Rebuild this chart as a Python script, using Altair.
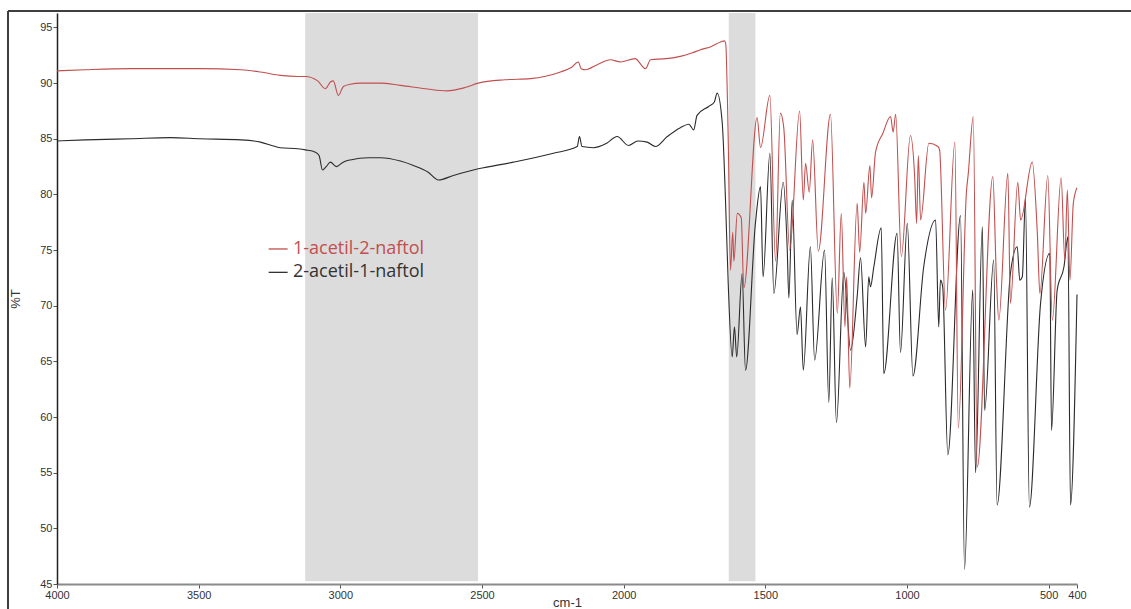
import altair as alt
import pandas as pd

# FTIR spectra, wavenumber (cm-1) vs transmittance (%T)
red_wn = [4000, 3900, 3741, 3600, 3494, 3350, 3282, 3212, 3150, 3123, 3080, 3053, 3035, 3025,
          3007, 2989, 2965, 2929, 2859, 2788, 2700, 2623, 2560, 2513, 2420, 2329, 2223, 2185,
          2160, 2150, 2135, 2090, 2047, 2011, 1960, 1923, 1905, 1850, 1800, 1760, 1729, 1690,
          1658, 1644, 1640, 1631, 1623, 1615, 1611, 1599, 1585, 1576, 1529, 1517, 1484, 1464,
          1447, 1435, 1414, 1379, 1366, 1358, 1345, 1333, 1313, 1270, 1246, 1232, 1219, 1213,
          1202, 1176, 1167, 1152, 1146, 1131, 1125, 1111, 1085, 1058, 1049, 1040, 1020, 988,
          973, 966, 960, 952, 923, 891, 885, 864, 831, 819, 790, 784, 766, 752, 697, 685,
          676, 644, 635, 609, 599, 558, 540, 531, 503, 487, 456, 443, 434, 425, 413, 400]
red_t = [91.1, 91.2, 91.3, 91.3, 91.3, 91.2, 91.0, 90.7, 90.6, 90.6, 90.2, 89.5, 90.1, 90.2,
         88.9, 89.7, 89.9, 90.0, 90.0, 89.8, 89.5, 89.3, 89.6, 90.0, 90.3, 90.4, 91.0, 91.4,
         91.9, 91.3, 91.2, 91.7, 92.1, 91.9, 92.2, 91.3, 92.1, 92.2, 92.4, 92.7, 93.0, 93.3,
         93.7, 93.8, 93.6, 85.0, 73.2, 76.6, 74.0, 78.3, 77.9, 71.6, 86.9, 84.2, 88.9, 74.0,
         87.3, 86.0, 75.0, 87.5, 79.5, 82.8, 80.2, 84.9, 74.9, 87.2, 69.3, 78.3, 68.1, 72.6,
         62.6, 79.2, 74.8, 81.1, 78.3, 82.6, 79.7, 83.8, 85.5, 87.0, 85.6, 87.2, 74.4, 85.3,
         81.6, 77.4, 83.5, 77.7, 84.6, 84.3, 84.0, 69.6, 84.7, 59.0, 80.3, 81.8, 87.0, 55.5,
         81.6, 72.9, 68.7, 81.9, 70.2, 81.1, 77.7, 82.9, 76.5, 71.1, 81.7, 68.7, 81.5, 74.1,
         80.4, 72.3, 79.2, 80.6]

black_wn = [4000, 3900, 3741, 3600, 3494, 3350, 3282, 3229, 3212, 3150, 3123, 3088, 3075, 3063,
            3050, 3035, 3014, 2990, 2965, 2900, 2859, 2788, 2742, 2690, 2654, 2601, 2513, 2389,
            2248, 2164, 2156, 2147, 2107, 2060, 2023, 1983, 1950, 1917, 1888, 1846, 1800, 1770,
            1753, 1741, 1700, 1680, 1670, 1652, 1641, 1631, 1617, 1609, 1601, 1582, 1570, 1535,
            1517, 1508, 1484, 1470, 1437, 1423, 1417, 1405, 1388, 1376, 1366, 1341, 1326, 1291,
            1276, 1264, 1249, 1223, 1199, 1176, 1164, 1146, 1135, 1129, 1117, 1091, 1082, 1035,
            1023, 999, 979, 941, 899, 888, 882, 874, 856, 811, 797, 768, 758, 734, 726, 694,
            682, 635, 611, 602, 593, 582, 568, 529, 496, 490, 470, 446, 432, 423, 400]
black_t = [84.8, 84.9, 85.0, 85.1, 85.0, 84.9, 84.7, 84.3, 84.2, 84.1, 84.0, 83.8, 83.5, 82.2,
           82.5, 82.9, 82.5, 82.9, 83.1, 83.3, 83.3, 83.0, 82.6, 82.0, 81.3, 81.7, 82.3, 82.9,
           83.7, 84.3, 85.2, 84.3, 84.2, 84.6, 85.2, 84.4, 84.8, 84.7, 84.3, 85.2, 86.0, 86.3,
           85.8, 87.1, 87.9, 88.3, 89.1, 86.4, 79.8, 72.0, 65.4, 68.1, 65.4, 72.9, 64.2, 77.4,
           80.7, 72.6, 83.7, 71.1, 81.1, 75.3, 70.7, 79.5, 67.4, 69.9, 64.2, 75.3, 65.1, 75.0,
           61.3, 72.5, 59.5, 73.0, 66.0, 70.8, 74.3, 66.3, 72.6, 71.7, 73.5, 77.0, 63.9, 76.5,
           65.8, 77.4, 63.7, 73.5, 77.7, 68.1, 72.3, 71.7, 56.6, 78.1, 46.3, 71.4, 55.0, 77.1,
           60.6, 74.1, 52.1, 72.9, 75.3, 72.3, 72.6, 79.7, 51.9, 70.1, 74.7, 58.8, 71.4, 73.5,
           76.2, 52.1, 71.0]

names = ["1-acetil-2-naftol", "2-acetil-1-naftol"]
colors = ["#c24f4f", "#2b2b2b"]
text_colors = ["#c24f4f", "#333333"]

# shaded regions (cm-1)
band_start = [3124, 1629]
band_end = [2514, 1535]

x_ticks = [4000, 3500, 3000, 2500, 2000, 1500, 1000, 500, 400]
y_ticks = [45, 50, 55, 60, 65, 70, 75, 80, 85, 90, 95]

red = pd.DataFrame({"wn": red_wn, "T": red_t})
black = pd.DataFrame({"wn": black_wn, "T": black_t})
bands = pd.DataFrame({"x1": band_start, "x2": band_end, "y1": 45.25, "y2": 96.3})
legend = pd.DataFrame({
    "name": names,
    "x1": [3253, 3253],
    "x2": [3186, 3186],
    "xt": [3167, 3167],
    "y": [75.1, 73.0],
    "color": text_colors,
})

x_scale = alt.Scale(domain=[400, 4000], reverse=True, nice=False, zero=False)
y_scale = alt.Scale(domain=[45, 96.3], nice=False, zero=False)

x_axis = alt.Axis(values=x_ticks, title="cm-1", grid=False, format="d", labelFlush=False,
                  labelOverlap=False,
                  domainColor="#8a8a8a", domainWidth=2, tickColor="#555555", tickSize=4,
                  labelFontSize=11, labelColor="#333333", labelFont="Liberation Sans",
                  labelPadding=1, titleFontSize=13, titleFont="Liberation Sans",
                  titleFontWeight="normal", titleColor="#333333", titlePadding=-4)
y_axis = alt.Axis(values=y_ticks, title="%T", grid=False, format="d", labelFlush=False,
                  domainColor="#222222", domainWidth=1.5, tickColor="#555555", tickSize=4,
                  labelFontSize=11, labelColor="#333333", labelFont="Liberation Sans",
                  labelPadding=1, titleFontSize=13, titleFont="Liberation Sans",
                  titleFontWeight="normal", titleColor="#333333", titlePadding=17)

shade = alt.Chart(bands).mark_rect(color="#dcdcdc").encode(
    x=alt.X("x1:Q", scale=x_scale, axis=x_axis),
    x2="x2:Q",
    y=alt.Y("y1:Q", scale=y_scale, axis=y_axis),
    y2="y2:Q",
)

line_black = alt.Chart(black).mark_line(
    color=colors[1], strokeWidth=1.1, interpolate="monotone"
).encode(x=alt.X("wn:Q", scale=x_scale), y=alt.Y("T:Q", scale=y_scale))
line_red = alt.Chart(red).mark_line(
    color=colors[0], strokeWidth=1.1, interpolate="monotone"
).encode(x=alt.X("wn:Q", scale=x_scale), y=alt.Y("T:Q", scale=y_scale))

legend_lines = alt.Chart(legend).mark_rule(strokeWidth=1.3).encode(
    x=alt.X("x1:Q", scale=x_scale), x2="x2:Q",
    y=alt.Y("y:Q", scale=y_scale),
    color=alt.Color("color:N", scale=None),
)
legend_text = alt.Chart(legend).mark_text(
    align="left", baseline="middle", fontSize=18, font="Open Sans"
).encode(
    x=alt.X("xt:Q", scale=x_scale),
    y=alt.Y("y:Q", scale=y_scale),
    text="name:N",
    color=alt.Color("color:N", scale=None),
)

# outer frame lines (left and top)
frame_left = alt.Chart(legend).mark_rule(color="#333333", strokeWidth=1.5).encode(
    x=alt.value(-49), y=alt.value(-2), y2=alt.value(600)
)
frame_top = alt.Chart(legend).mark_rule(color="#333333", strokeWidth=1.5).encode(
    x=alt.value(-49), x2=alt.value(1080), y=alt.value(-2)
)

chart = alt.layer(
    shade, line_black, line_red, legend_lines, legend_text, frame_left, frame_top
).properties(
    width=1020, height=571,
    autosize=alt.AutoSizeParams(type="none"),
    padding={"left": 57, "top": 13, "right": 54, "bottom": 25},
    background="white",
).configure_view(stroke=None)

chart.save("out.html", embed_options={"renderer": "svg", "actions": False})
